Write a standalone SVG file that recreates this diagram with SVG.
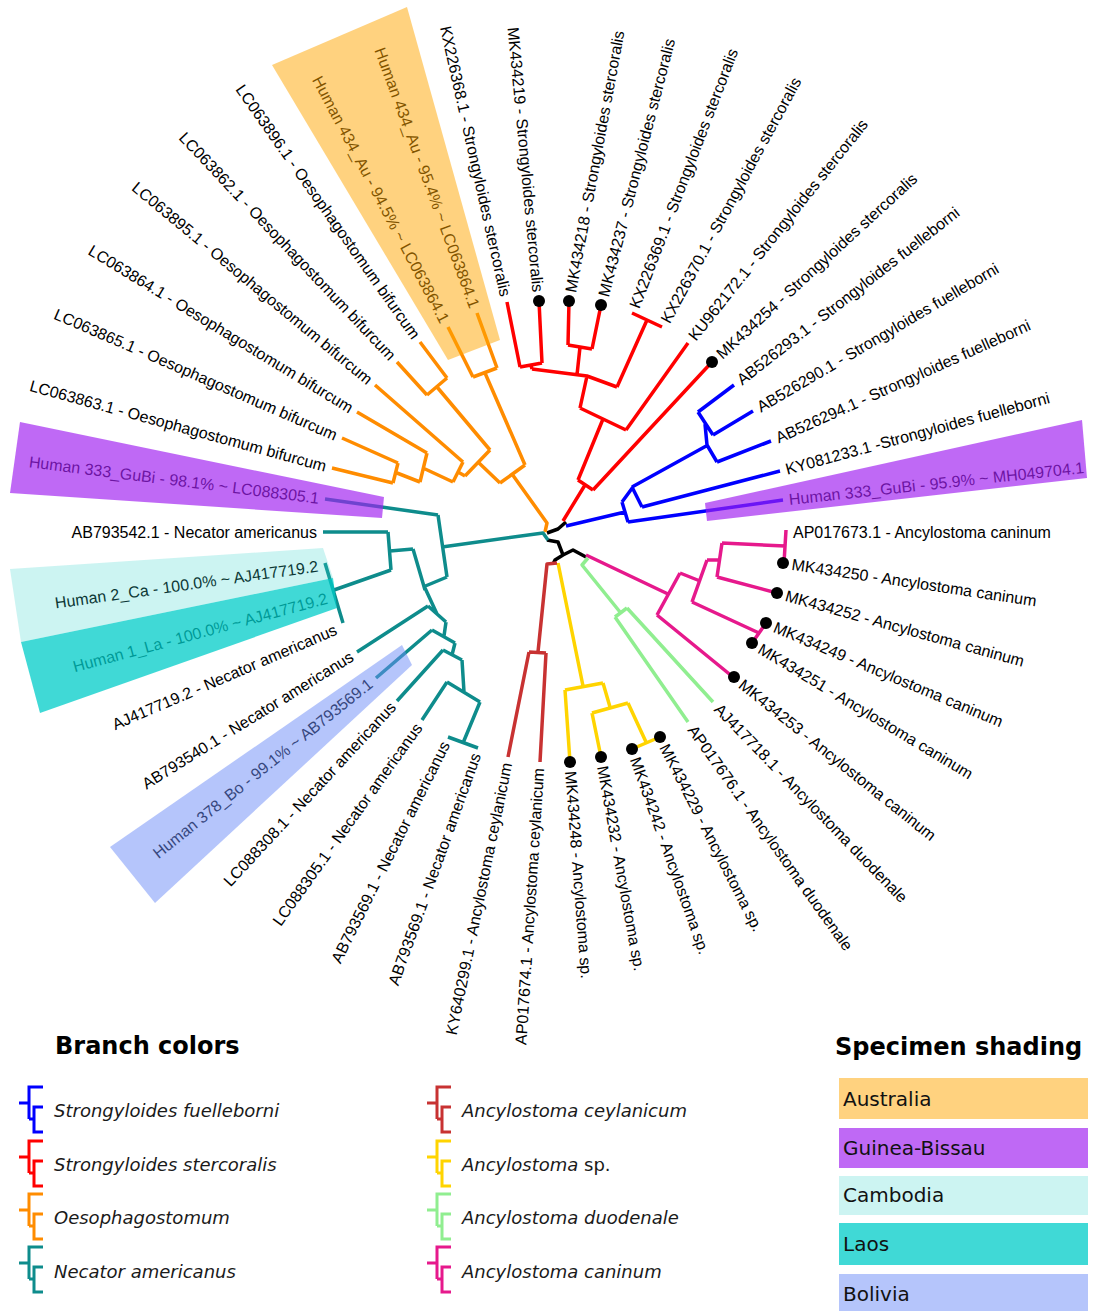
<svg xmlns="http://www.w3.org/2000/svg" width="1112" height="1311" viewBox="0 0 1112 1311">
<style>
.lbl{font-family:"Liberation Sans",Arial,sans-serif;font-size:16px;fill:#000}
.e{text-anchor:end}
.br{fill:none;stroke-width:3.5;stroke-linejoin:round;stroke-linecap:butt}
.ic{fill:none;stroke-width:3;stroke-linejoin:miter}
.red{stroke:#FF0000}.blue{stroke:#0000FF}.org{stroke:#FF8C00}.teal{stroke:#0E8C8C}
.brn{stroke:#C83232}.yel{stroke:#FFD400}.grn{stroke:#90EE90}.pink{stroke:#E6198C}.blk{stroke:#000}
.dot{fill:#000}
.au{fill:#FFA500;fill-opacity:0.5}.gb{fill:#A020F0;fill-opacity:0.67}.ca{fill:#33D3CB;fill-opacity:0.25}
.la{fill:#00CCC8;fill-opacity:0.75}.bo{fill:#6B8BF7;fill-opacity:0.5}
.h{font-family:"DejaVu Sans",Verdana,sans-serif;font-weight:bold;font-size:24px;fill:#000}
.it{font-family:"DejaVu Sans",Verdana,sans-serif;font-style:italic;font-size:18px;fill:#1a1a1a}
.up{font-style:normal}
.lg{font-family:"DejaVu Sans",Verdana,sans-serif;font-size:20px;fill:#111}
</style>
<rect width="1112" height="1311" fill="#fff"/>

<g id="connectors">
  <path class="br blk" d="M547,533 L558,529 L566,522 M547,540 L558,542 L563,555 L573,550 L586,557 M563,555 L555,560 L553,564"/>
  <path class="br red" d="M563,521 L585,485 M578,480 L593,490 M593,490 L711,363 M578,480 L603,419 M580,408 L626,430 M626,430 L688,343 M580,408 L587,376 M532,369 L587,376 L617,387 M617,387 L647,320 M632,313 L662,327 M532,369 L531,365 M520,367 L542,363 M520,367 L507,302 M542,363 L539,301 M577,375 L580,347 M568,345 L592,349 M568,345 L569,301 M592,349 L601,305"/>
  <path class="br blue" d="M566,526 L625,512 M622,502 L628,522 M628,522 L783,500 M622,502 L633,487 M632,487 L642,507 M642,507 L780,471 M632,487 L708,445 M707,445 L717,462 M717,462 L771,441 M707,445 L705,424 M698,412 L713,435 M713,435 L753,411 M698,412 L734,385"/>
  <path class="br pink" d="M586,555 L668,594 M657,615 L680,573 M657,615 L733,677 M680,573 L700,581 M692,602 L707,560 M692,602 L759,633 M766,623 L752,643 M707,560 L720,560 M722,543 L717,577 M717,577 L777,593 M722,543 L785,546 M786,530 L784,563"/>
  <path class="br grn" d="M588,558 L582,565 L620,612 M615,617 L627,608 M615,617 L688,722 M627,608 L713,702"/>
  <path class="br yel" d="M558,563 L583,686 M565,690 L603,683 M565,690 L570,762 M603,683 L610,707 M592,713 L628,703 M592,713 L601,757 M628,703 L646,742 M632,749 L660,737"/>
  <path class="br brn" d="M557,563 L547,564 L538,652 M529,652 L546,653 M546,653 L540,762 M529,652 L508,757"/>
  <path class="br org" d="M512,474 L547,523 L545,532 M500,483 L525,465 M525,465 L485,373 M473,377 L497,368 M473,377 L448,327 M497,368 L477,313 M500,483 L478,462 M465,476 L490,450 M490,450 L437,387 M427,395 L447,378 M447,378 L420,342 M427,395 L397,362 M465,476 L458,472 M453,482 L463,462 M463,462 L375,385 M453,482 L423,468 M420,482 L427,453 M427,453 L357,412 M420,482 L397,473 M393,483 L398,463 M398,463 L342,438 M393,483 L332,468"/>
  <path class="br teal" d="M548,540 L543,533 L442,547 M438,515 L447,577 M438,515 L325,499 M447,577 L423,587 M413,549 L425,590 M413,549 L390,551 M388,532 L391,570 M388,532 L323,532 M391,570 L334,590 M325,563 L343,623 M425,588 L437,614 M428,606 L446,622 M428,606 L357,652 M446,622 L444,636 M432,630 L455,643 M432,630 L376,678 M455,643 L452,655 M443,650 L462,660 M443,650 L397,701 M462,660 L464,692 M447,682 L480,702 M447,682 L422,720 M480,702 L463,743 M448,737 L478,748"/>
</g>

<g id="leaves">
  <g id="n-MK434218"><circle class="dot" cx="569" cy="301" r="6"/><text class="lbl" dy="0.35em" transform="translate(570.6,292.2) rotate(-79.5)">MK434218 - Strongyloides stercoralis</text></g>
  <g id="n-MK434237"><circle class="dot" cx="601" cy="305" r="6"/><text class="lbl" dy="0.35em" transform="translate(603.3,296.3) rotate(-75.5)">MK434237 - Strongyloides stercoralis</text></g>
  <g id="n-KX226369"><text class="lbl" dy="0.35em" transform="translate(634.1,307.4) rotate(-69)">KX226369.1 - Strongyloides stercoralis</text></g>
  <g id="n-KX226370"><text class="lbl" dy="0.35em" transform="translate(664.9,321.7) rotate(-61.5)">KX226370.1 - Strongyloides stercoralis</text></g>
  <g id="n-KU962172"><text class="lbl" dy="0.35em" transform="translate(691.7,338.3) rotate(-51.5)">KU962172.1 - Strongyloides stercoralis</text></g>
  <g id="n-MK434254"><circle class="dot" cx="712" cy="362" r="6"/><text class="lbl" dy="0.35em" transform="translate(718.6,355.9) rotate(-42.5)">MK434254 - Strongyloides stercoralis</text></g>
  <g id="n-AB526293"><text class="lbl" dy="0.35em" transform="translate(738.7,381.3) rotate(-38)">AB526293.1 - Strongyloides fuelleborni</text></g>
  <g id="n-AB526290"><text class="lbl" dy="0.35em" transform="translate(758.2,408) rotate(-30.5)">AB526290.1 - Strongyloides fuelleborni</text></g>
  <g id="n-AB526294"><text class="lbl" dy="0.35em" transform="translate(776.5,438.5) rotate(-24.3)">AB526294.1 - Strongyloides fuelleborni</text></g>
  <g id="n-KY081233"><text class="lbl" dy="0.35em" transform="translate(785.8,469.4) rotate(-15.3)">KY081233.1 -Strongyloides fuelleborni</text></g>
  <g id="n-Human333R"><text class="lbl" dy="0.35em" transform="translate(789,499.4) rotate(-6.2)">Human 333_GuBi - 95.9% ~ MH049704.1</text></g>
  <g id="n-AP017673"><text class="lbl" dy="0.35em" transform="translate(793,532)">AP017673.1 - Ancylostoma caninum</text></g>
  <g id="n-MK434250"><circle class="dot" cx="783" cy="563" r="6"/><text class="lbl" dy="0.35em" transform="translate(791.9,564.3) rotate(8.5)">MK434250 - Ancylostoma caninum</text></g>
  <g id="n-MK434252"><circle class="dot" cx="777" cy="593" r="6"/><text class="lbl" dy="0.35em" transform="translate(785.7,595.4) rotate(15.5)">MK434252 - Ancylostoma caninum</text></g>
  <g id="n-MK434249"><circle class="dot" cx="766" cy="623" r="6"/><text class="lbl" dy="0.35em" transform="translate(774.3,626.5) rotate(22.8)">MK434249 - Ancylostoma caninum</text></g>
  <g id="n-MK434251"><circle class="dot" cx="752" cy="643" r="6"/><text class="lbl" dy="0.35em" transform="translate(759.7,647.6) rotate(31)">MK434251 - Ancylostoma caninum</text></g>
  <g id="n-MK434253"><circle class="dot" cx="734" cy="677" r="6"/><text class="lbl" dy="0.35em" transform="translate(741,682.6) rotate(38.7)">MK434253 - Ancylostoma caninum</text></g>
  <g id="n-AJ417718"><text class="lbl" dy="0.35em" transform="translate(717.2,706.3) rotate(45.9)">AJ417718.1 - Ancylostoma duodenale</text></g>
  <g id="n-AP017676"><text class="lbl" dy="0.35em" transform="translate(691.5,726.9) rotate(54.6)">AP017676.1 - Ancylostoma duodenale</text></g>
  <g id="n-MK434229"><circle class="dot" cx="660" cy="737" r="6"/><text class="lbl" dy="0.35em" transform="translate(664.1,745) rotate(62.9)">MK434229 - Ancylostoma sp.</text></g>
  <g id="n-MK434242"><circle class="dot" cx="632" cy="749" r="6"/><text class="lbl" dy="0.35em" transform="translate(635,757.5) rotate(70.4)">MK434242 - Ancylostoma sp.</text></g>
  <g id="n-MK434232"><circle class="dot" cx="601" cy="757" r="6"/><text class="lbl" dy="0.35em" transform="translate(602.6,765.9) rotate(79.7)">MK434232 - Ancylostoma sp.</text></g>
  <g id="n-MK434248"><circle class="dot" cx="570" cy="762" r="6"/><text class="lbl" dy="0.35em" transform="translate(570.7,771) rotate(85.6)">MK434248 - Ancylostoma sp.</text></g>

  <g id="n-AP017674"><text class="lbl e" dy="0.35em" transform="translate(538.6,768) rotate(-86.3)">AP017674.1 - Ancylostoma ceylanicum</text></g>
  <g id="n-KY640299"><text class="lbl e" dy="0.35em" transform="translate(506.8,762.9) rotate(-78.4)">KY640299.1 - Ancylostoma ceylanicum</text></g>
  <g id="n-AB793569a"><text class="lbl e" dy="0.35em" transform="translate(476,753.6) rotate(-70.2)">AB793569.1 - Necator americanus</text></g>
  <g id="n-AB793569b"><text class="lbl e" dy="0.35em" transform="translate(445.3,742.4) rotate(-63.4)">AB793569.1 - Necator americanus</text></g>
  <g id="n-LC088305"><text class="lbl e" dy="0.35em" transform="translate(418.5,724.9) rotate(-54.4)">LC088305.1 - Necator americanus</text></g>
  <g id="n-LC088308"><text class="lbl e" dy="0.35em" transform="translate(392.9,704.4) rotate(-47.1)">LC088308.1 - Necator americanus</text></g>
  <g id="n-Human378"><text class="lbl e" dy="0.35em" transform="translate(370.3,681.8) rotate(-38.8)">Human 378_Bo - 99.1% ~ AB793569.1</text></g>
  <g id="n-AB793540"><text class="lbl e" dy="0.35em" transform="translate(351.9,655.2) rotate(-31.9)">AB793540.1 - Necator americanus</text></g>
  <g id="n-AJ417719"><text class="lbl e" dy="0.35em" transform="translate(336,629) rotate(-23.3)">AJ417719.2 - Necator americanus</text></g>
  <g id="n-Human1"><text class="lbl e" dy="0.35em" transform="translate(327,598) rotate(-15.2)">Human 1_La - 100.0% ~ AJ417719.2</text></g>
  <g id="n-Human2"><text class="lbl e" dy="0.35em" transform="translate(318,566) rotate(-8)">Human 2_Ca - 100.0% ~ AJ417719.2</text></g>
  <g id="n-AB793542"><text class="lbl e" dy="0.35em" transform="translate(317,532)">AB793542.1 - Necator americanus</text></g>
  <g id="n-Human333L"><text class="lbl e" dy="0.35em" transform="translate(319,498.2) rotate(7.2)">Human 333_GuBi - 98.1% ~ LC088305.1</text></g>
  <g id="n-LC063863"><text class="lbl e" dy="0.35em" transform="translate(326.2,466.4) rotate(15.3)">LC063863.1 - Oesophagostomum bifurcum</text></g>
  <g id="n-LC063865"><text class="lbl e" dy="0.35em" transform="translate(336.5,435.6) rotate(23.5)">LC063865.1 - Oesophagostomum bifurcum</text></g>
  <g id="n-LC063864"><text class="lbl e" dy="0.35em" transform="translate(351.9,408.9) rotate(31.4)">LC063864.1 - Oesophagostomum bifurcum</text></g>
  <g id="n-LC063895"><text class="lbl e" dy="0.35em" transform="translate(370.4,381.2) rotate(39.7)">LC063895.1 - Oesophagostomum bifurcum</text></g>
  <g id="n-LC063862"><text class="lbl e" dy="0.35em" transform="translate(392.9,357.6) rotate(46.6)">LC063862.1 - Oesophagostomum bifurcum</text></g>
  <g id="n-LC063896"><text class="lbl e" dy="0.35em" transform="translate(416.5,337.1) rotate(54.8)">LC063896.1 - Oesophagostomum bifurcum</text></g>
  <g id="n-Human434a"><text class="lbl e" dy="0.35em" transform="translate(445.2,321.7) rotate(62.3)">Human 434_Au - 94.5% ~ LC063864.1</text></g>
  <g id="n-Human434b"><text class="lbl e" dy="0.35em" transform="translate(474.9,307.4) rotate(69.8)">Human 434_Au - 95.4% ~ LC063864.1</text></g>
  <g id="n-KX226368"><text class="lbl e" dy="0.35em" transform="translate(505.7,296.1) rotate(77.4)">KX226368.1 - Strongyloides stercoralis</text></g>
  <g id="n-MK434219"><circle class="dot" cx="539" cy="301" r="6"/><text class="lbl e" dy="0.35em" transform="translate(538.2,292) rotate(84.6)">MK434219 - Strongyloides stercoralis</text></g>
</g>

<g id="shading">
  <polygon class="au" points="272,65 407,7 500,340 448,360"/>
  <polygon class="gb" points="20,422 384,497 382,518 10,493"/>
  <polygon class="gb" points="705,503 1082,420 1087,478 707,521"/>
  <polygon class="ca" points="10,569 323,548 333,578 21,642"/>
  <polygon class="la" points="21,642 333,578 337,608 40,713"/>
  <polygon class="bo" points="402,645 412,665 155,903 110,847"/>
</g>

<g id="legend-branch">
  <text class="h" x="55" y="1054">Branch colors</text>
  <path class="ic blue" d="M43,1087 H29 V1119 M19,1103 H29 M29,1119 H34 M43,1107 H34 V1132 H43"/>
  <text class="it" x="54" y="1117">Strongyloides fuelleborni</text>
  <path class="ic red" d="M43,1141 H29 V1173 M19,1157 H29 M29,1173 H34 M43,1161 H34 V1186 H43"/>
  <text class="it" x="54" y="1171">Strongyloides stercoralis</text>
  <path class="ic org" d="M43,1194 H29 V1226 M19,1210 H29 M29,1226 H34 M43,1214 H34 V1239 H43"/>
  <text class="it" x="54" y="1224">Oesophagostomum</text>
  <path class="ic teal" d="M43,1247 H29 V1279 M19,1263 H29 M29,1279 H34 M43,1267 H34 V1292 H43"/>
  <text class="it" x="54" y="1278">Necator americanus</text>

  <path class="ic brn" d="M451,1087 H437 V1119 M427,1103 H437 M437,1119 H442 M451,1107 H442 V1132 H451"/>
  <text class="it" x="462" y="1117">Ancylostoma ceylanicum</text>
  <path class="ic yel" d="M451,1141 H437 V1173 M427,1157 H437 M437,1173 H442 M451,1161 H442 V1186 H451"/>
  <text class="it" x="462" y="1171">Ancylostoma <tspan class="up">sp.</tspan></text>
  <path class="ic grn" d="M451,1194 H437 V1226 M427,1210 H437 M437,1226 H442 M451,1214 H442 V1239 H451"/>
  <text class="it" x="462" y="1224">Ancylostoma duodenale</text>
  <path class="ic pink" d="M451,1247 H437 V1279 M427,1263 H437 M437,1279 H442 M451,1267 H442 V1292 H451"/>
  <text class="it" x="462" y="1278">Ancylostoma caninum</text>
</g>

<g id="legend-shading">
  <text class="h" x="835" y="1055">Specimen shading</text>
  <rect class="au" x="839" y="1078" width="249" height="41"/>
  <text class="lg" x="843" y="1106">Australia</text>
  <rect class="gb" x="839" y="1128" width="249" height="40"/>
  <text class="lg" x="843" y="1155">Guinea-Bissau</text>
  <rect class="ca" x="839" y="1176" width="249" height="39"/>
  <text class="lg" x="843" y="1202">Cambodia</text>
  <rect class="la" x="839" y="1223" width="249" height="42"/>
  <text class="lg" x="843" y="1251">Laos</text>
  <rect class="bo" x="839" y="1274" width="249" height="37"/>
  <text class="lg" x="843" y="1301">Bolivia</text>
</g>
</svg>
